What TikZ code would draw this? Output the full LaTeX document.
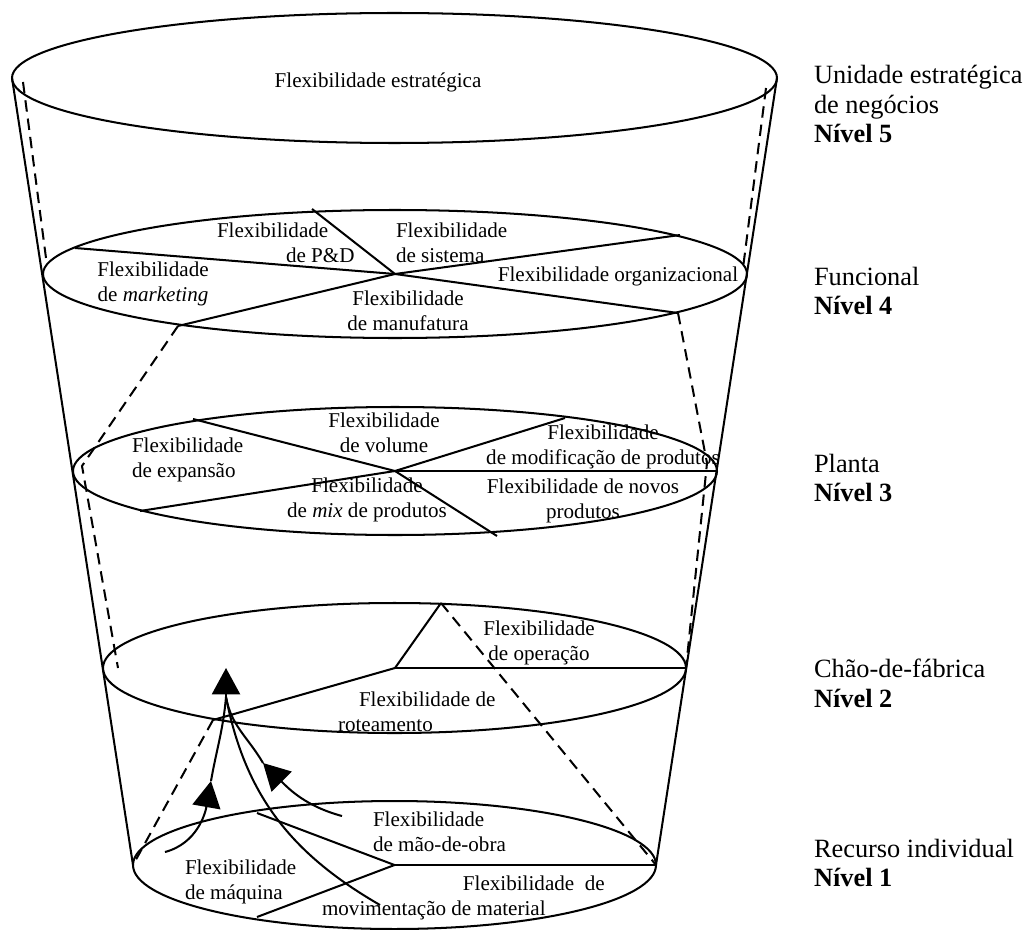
\documentclass[tikz,border=0pt]{standalone}
\usepackage{fontspec}
\setmainfont{Liberation Serif}
\usetikzlibrary{arrows.meta}

\begin{document}
\begin{tikzpicture}[x=0.02cm, y=-0.02cm, line width=1.15pt,
		    every node/.style={inner sep=0pt, font=\fontsize{12}{14.5}\selectfont},
		    nivel/.style={anchor=west, align=left, font=\fontsize{15}{17}\selectfont},
		    oculta/.style={dash pattern=on 6.5pt off 4pt},
		    seta/.style={-{Triangle[length=15pt, width=16pt]}}]

\useasboundingbox (0,0) rectangle (1023,929);

% cone
\coordinate (t5e) at (12,78);
\coordinate (t5d) at (777,78);
\coordinate (t1e) at (133,865);
\coordinate (t1d) at (656,865);
\draw (t5e) -- (t1e);
\draw (t5d) -- (t1d);
\draw (394.5,78) ellipse [x radius=382.5, y radius=65];
\draw (395,274) ellipse [x radius=352, y radius=64];
\draw (395,471) ellipse [x radius=322, y radius=64];
\draw (394.5,668) ellipse [x radius=291.5, y radius=65];
\draw (394.5,865) ellipse [x radius=261.5, y radius=64];

% nivel 4
\coordinate (c4) at (395,274);
\coordinate (c4a) at (75,248);
\coordinate (c4b) at (312,209);
\coordinate (c4c) at (178,326);
\coordinate (c4d) at (680,235);
\coordinate (c4e) at (678,313);
\draw (c4a) -- (c4) -- (c4e);
\draw (c4b) -- (c4);
\draw (c4c) -- (c4) -- (c4d);

% nivel 3
\coordinate (c3) at (395,471);
\coordinate (c3a) at (193,419);
\coordinate (c3b) at (140,511);
\coordinate (c3c) at (497,536);
\coordinate (c3d) at (717,471);
\coordinate (c3e) at (565,418);
\draw (c3a) -- (c3) -- (c3c);
\draw (c3b) -- (c3) -- (c3e);
\draw (c3) -- (c3d);

% nivel 2
\coordinate (c2) at (395,668);
\coordinate (c2a) at (441,603);
\coordinate (c2b) at (213,720);
\coordinate (c2c) at (686,668);
\draw (c2b) -- (c2) -- (c2a);
\draw (c2) -- (c2c);

% nivel 1
\coordinate (c1) at (394.5,865);
\coordinate (c1a) at (257,813);
\coordinate (c1b) at (257,917);
\draw (c1a) -- (c1) -- (c1b);
\draw (c1) -- (t1d);

% tracejadas
\coordinate (p5e) at (23,82);
\coordinate (p4e) at (46,258);
\coordinate (p5d) at (766,88);
\coordinate (p4d) at (743,268);
\coordinate (p3e) at (82,466);
\coordinate (p2e) at (118,668);
\coordinate (p3d) at (707,463);
\draw[oculta] (p5e) -- (p4e);
\draw[oculta] (p5d) -- (p4d);
\draw[oculta] (c4c) -- (p3e) -- (p2e);
\draw[oculta] (c4e) -- (p3d) -- (c2c);
\draw[oculta] (c2b) -- (t1e);
\draw[oculta] (c2a) -- (t1d);

% setas
\coordinate (topo) at (226,668);
\coordinate (base) at (226,697);
\coordinate (maqA) at (165,852);
\coordinate (maqB) at (211,781);
\coordinate (maoA) at (342,816);
\coordinate (maoB) at (263,763);
\coordinate (movA) at (380,905);
\draw[seta] (base) -- (topo);
\draw[seta] (maqA) to[out=15, in=-100] (maqB);
\draw (maqB) to[out=80, in=-95] (base);
\draw[seta] (maoA) to[out=165, in=-45] (maoB);
\draw (maoB) to[out=120, in=-80] (base);
\draw (movA) to[out=150, in=-79] (base);

% textos
\node (estrat) at (378,82) {Flexibilidade estratégica};

\node[anchor=west, align=left] (ped) at (216,243) {Flexibilidade\\\hspace*{1.38cm}de P\&D};
\node[anchor=west, align=left] (sist) at (395,243) {Flexibilidade\\de sistema};
\node[align=center] (mkt) at (153,284) {Flexibilidade\\de \textit{marketing}};
\node[align=center] (manuf) at (408,311) {Flexibilidade\\de manufatura};
\node (org) at (618,276) {Flexibilidade organizacional};

\node[anchor=west, align=left] (expa) at (131,460) {Flexibilidade\\de expansão};
\node[align=center] (volu) at (384,433) {Flexibilidade\\de volume};
\node[align=center] (mix) at (367,500) {Flexibilidade\\de \textit{mix} de produtos};
\node[align=center] (modif) at (603,447) {Flexibilidade\\de modificação de produtos};
\node[align=center] (novos) at (583,501) {Flexibilidade de novos\\produtos};

\node[align=center] (oper) at (539,643) {Flexibilidade\\de operação};
\node[anchor=west, align=left] (rot) at (337,712) {\hspace*{0.42cm}Flexibilidade de\\roteamento};

\node[anchor=west, align=left] (mao) at (372,832) {Flexibilidade\\de mão-de-obra};
\node[anchor=west, align=left] (maq) at (184,882) {Flexibilidade\\de máquina};
\node[anchor=west, align=left] (mov) at (321,898) {\hspace*{2.82cm}Flexibilidade\ \ de\\movimentação de material};

\node[nivel] (n5) at (813,104) {Unidade estratégica\\de negócios\\\textbf{Nível 5}};
\node[nivel] (n4) at (813,291) {Funcional\\\textbf{Nível 4}};
\node[nivel] (n3) at (813,478) {Planta\\\textbf{Nível 3}};
\node[nivel] (n2) at (813,683) {Chão-de-fábrica\\\textbf{Nível 2}};
\node[nivel] (n1) at (813,863) {Recurso individual\\\textbf{Nível 1}};
\end{tikzpicture}
\end{document}
